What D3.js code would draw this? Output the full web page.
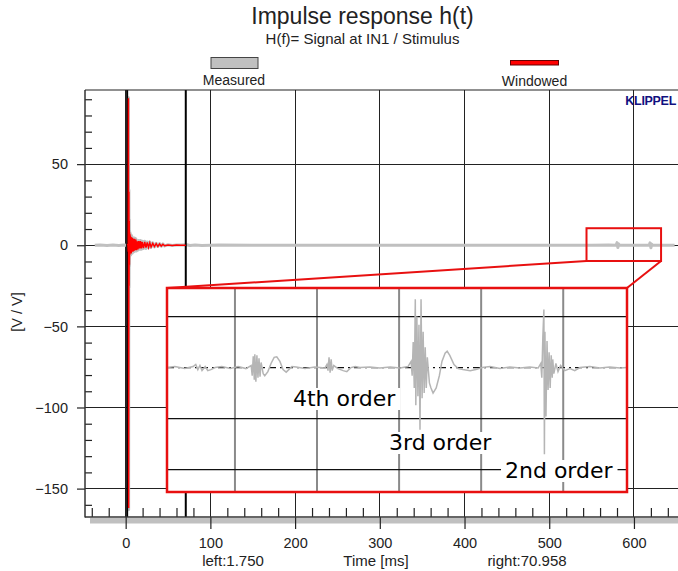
<!DOCTYPE html>
<html><head><meta charset="utf-8">
<script src="https://cdn.jsdelivr.net/npm/d3@7/dist/d3.min.js"></script>
<style>
html,body{margin:0;padding:0;background:#fff;}
svg{display:block;font-family:"Liberation Sans",Arial,sans-serif;}
</style></head><body>
<svg id="chart" width="678" height="571"></svg>
<script>
// ---------- data ----------
// Measured impulse response (time in ms, value in V/V)
const measuredTime = [-36.5,-30,-22,-15,-8,-2,1.0,2.0,2.6,3.0,
  3.25,3.5,3.8,4.0,4.2,4.4,4.6,4.8,5.0,5.3,
  5.6,5.9,6.2,6.6,7.0,7.5,8.0,8.6,9.2,9.8,
  10.5,11.2,12.0,12.8,13.6,14.5,15.5,16.5,17.5,18.5,
  19.5,21,22.5,24,25.5,27,28.5,30,32,34,
  36,38,40,42,44,46,50,55,60,65,
  72,76,82,90,110,150,200,260,320,380,
  440,500,550,570,579,580,581,582,583,600,
  618,619,620,621,622,635,648];
const measuredValue = [0,0.15,-0.1,0.1,-0.1,0.1,0,0.3,0.6,-4.5,
  91,-163,34,-26,16,-13,9,-7,8,-6,
  7,-6,6,-5,6,-5,5,-4.5,4.5,-4,
  4.5,-3.5,4,-3.5,3,-3,3,-2.5,3,-2.5,
  2.5,-2,2.5,-2,2,-1.5,2,-1.2,1.5,-1,
  1.2,-0.8,1,-0.6,0.8,-0.4,0.3,-0.2,0.2,0.1,
  0.3,-0.2,0.2,-0.1,0.1,0,0.05,-0.05,0.05,0,
  0.05,-0.05,0,0.1,0,1.6,-1.4,0.8,0,0.05,
  0,1.5,-1.6,0.6,0,0.05,0];

// Windowed impulse response (between the two cursors)
const windowedTime = [1.75,2.6,3.0,3.25,3.5,3.8,4.0,4.2,4.4,4.6,
  4.8,5.0,5.3,5.6,5.9,6.2,6.6,7.0,7.5,8.0,
  8.6,9.2,9.8,10.5,11.2,12.0,12.8,13.6,14.5,15.5,
  16.5,17.5,18.5,19.5,21,22.5,24,25.5,27,28.5,
  30,32,34,36,38,40,42,44,46,50,
  55,60,65,70.958];
const windowedValue = [0,0.5,-4,90.6,-162,33,-25,15,-12,8,
  -6,7,-5,6,-5,5,-5,5,-4,4.5,
  -4,4,-3.5,4,-3,3.5,-3,2.5,-2.5,2.5,
  -2,2.5,-2,2,-1.8,2,-1.5,1.8,-1.3,1.5,
  -1,1.2,-0.8,1,-0.7,0.8,-0.5,0.6,-0.3,0.2,
  -0.1,0.1,0,0];

const cursorLeft = 1.750;
const cursorRight = 70.958;

const xMajorTicks = [0,100,200,300,400,500,600];
const xMinorTicks = [-40,-20,20,40,60,80,120,140,160,180,220,240,260,280,
  320,340,360,380,420,440,460,480,520,540,560,580,620,640];
const yMajorTicks = [50,0,-50,-100,-150];
const yMinorTicks = [90,80,70,60,40,30,20,10,-10,-20,-30,-40,-60,-70,-80,-90,
  -110,-120,-130,-140,-160];

// Magnified window on the harmonic distortion impulses
const zoomTime = [544, 632];
const zoomValue = [10.5, -9.7];
const insetValueRange = [7.8, -12.2];
const insetGridTime = [557.0, 572.7, 588.4, 604.1, 619.8];
const insetGridValue = [5, -5, -10];
const insetTime = [544.0,545.5,547.4,549.0,549.5,549.9,550.3,550.7,551.3,551.8,
  552.4,553.2,554.5,556.1,557.6,559.1,560.1,560.3,560.5,560.7,
  560.8,561.0,561.2,561.4,561.6,561.8,562.0,562.4,562.7,563.3,
  563.9,564.5,565.0,565.6,566.2,566.8,567.3,567.9,568.7,570.4,
  572.3,574.2,574.6,574.8,575.0,575.2,575.4,575.6,575.9,576.7,
  577.7,578.4,579.2,580.0,580.9,582.8,584.7,586.7,588.6,590.1,
  590.7,590.9,591.1,591.3,591.5,591.6,591.8,592.0,592.2,592.4,
  592.6,592.8,593.0,593.2,593.4,593.6,593.8,594.2,594.5,594.9,
  595.5,596.1,596.6,597.2,597.6,598.1,598.9,599.7,600.6,602.0,
  603.1,604.3,605.8,607.7,609.6,611.5,613.4,615.0,615.5,615.7,
  615.9,616.1,616.2,616.3,616.5,616.7,616.9,617.1,617.3,617.5,
  617.7,617.8,618.0,618.4,618.8,619.3,620.1,621.1,622.0,623.0,
  624.9,626.8,628.7,630.7,632.0];
const insetValue = [0,0.1,-0.1,0.1,0.3,-0.2,0.2,-0.3,0.1,-0.3,
  -0.2,0,0.1,-0.1,0.1,-0.1,0.2,-0.8,1.1,-1.2,
  1.3,-1.4,1.2,-1.0,0.9,-0.9,0.5,-0.6,-0.8,-0.4,
  0.4,1.0,1.05,0.6,-0.2,-0.45,-0.2,0.1,0.05,-0.1,
  0.05,-0.05,0.3,-0.3,1.0,-0.5,0.8,-0.3,0.2,-0.1,
  -0.3,-0.4,0,0.1,0,0.05,-0.05,0.05,-0.05,0.1,
  0.6,-0.8,2.5,-2.0,6.7,-3.7,5.0,-2.8,4.2,-6.1,
  6.7,-3.0,3.5,-2.5,2.0,-2.0,1.0,-1.5,-2.0,-2.5,
  -2.0,-0.8,0.6,1.4,1.6,1.2,0.3,-0.1,-0.2,-0.3,
  -0.2,0,0.1,-0.1,0.05,-0.05,0.05,-0.05,0.4,-1.0,
  3.0,5.7,-8.5,3.5,-4.8,2.6,-2.2,1.5,-2.0,1.2,
  -1.0,0.8,-0.6,0.4,-0.4,0.2,-0.3,-0.1,-0.3,0,
  0.1,-0.05,0.05,-0.05,0];
const orderLabels = ["4th order", "3rd order", "2nd order"];

// ---------- layout ----------
const W = 678, H = 571;
const plot = {left: 85, top: 90, right: 678, bottom: 517};
const inset = {x: 167, y: 288, w: 460, h: 204};
const labelPos = [{x: 293, y: 406}, {x: 389, y: 450}, {x: 505, y: 478}];

const svg = d3.select("#chart");

const x = d3.scaleLinear().domain([-48, 652]).range([plot.left, plot.right]);
const y = d3.scaleLinear().domain([95.7, -167.5]).range([plot.top, plot.bottom]);

svg.append("defs").append("clipPath").attr("id", "plotClip")
  .append("rect").attr("x", plot.left).attr("y", plot.top)
  .attr("width", plot.right - plot.left).attr("height", plot.bottom - plot.top);

const body = svg.append("g").attr("clip-path", "url(#plotClip)");

// grid
body.selectAll(".vgrid").data(xMajorTicks).join("line")
  .attr("x1", d => x(d)).attr("x2", d => x(d))
  .attr("y1", plot.top).attr("y2", plot.bottom)
  .attr("stroke", "#222").attr("stroke-width", 1).attr("shape-rendering", "crispEdges");
body.selectAll(".hgrid").data(yMajorTicks).join("line")
  .attr("x1", plot.left).attr("x2", plot.right)
  .attr("y1", d => y(d)).attr("y2", d => y(d))
  .attr("stroke", "#222").attr("stroke-width", 1).attr("shape-rendering", "crispEdges");

// measured trace
const mainLine = d3.line().x(d => x(d[0])).y(d => y(d[1]));
body.append("path").datum(d3.zip(measuredTime, measuredValue))
  .attr("d", mainLine).attr("fill", "none")
  .attr("stroke", "#c0c0c0").attr("stroke-width", 3).attr("stroke-linejoin", "round");

// cursors
body.selectAll(".cursor").data([cursorLeft, cursorRight]).join("line")
  .attr("x1", d => x(d)).attr("x2", d => x(d))
  .attr("y1", plot.top).attr("y2", plot.bottom)
  .attr("stroke", "#000").attr("stroke-width", 2);

// windowed trace
body.append("path").datum(d3.zip(windowedTime, windowedValue))
  .attr("d", mainLine).attr("fill", "none")
  .attr("stroke", "#ff0000").attr("stroke-width", 1.5);

// zoom box and connectors
const zx0 = x(zoomTime[0]), zx1 = x(zoomTime[1]);
const zy0 = y(zoomValue[0]), zy1 = y(zoomValue[1]);
body.append("rect").attr("x", zx0).attr("y", zy0)
  .attr("width", zx1 - zx0).attr("height", zy1 - zy0)
  .attr("fill", "none").attr("stroke", "#e81010").attr("stroke-width", 2);
body.append("line").attr("x1", zx0).attr("y1", zy1).attr("x2", inset.x).attr("y2", inset.y)
  .attr("stroke", "#e81010").attr("stroke-width", 2);
body.append("line").attr("x1", zx1).attr("y1", zy1).attr("x2", inset.x + inset.w).attr("y2", inset.y)
  .attr("stroke", "#e81010").attr("stroke-width", 2);

// ---------- inset ----------
const ix = d3.scaleLinear().domain(zoomTime).range([inset.x, inset.x + inset.w]);
const iy = d3.scaleLinear().domain(insetValueRange).range([inset.y, inset.y + inset.h]);
const ig = svg.append("g");
ig.append("rect").attr("x", inset.x).attr("y", inset.y)
  .attr("width", inset.w).attr("height", inset.h).attr("fill", "#fff");
ig.selectAll(".ivgrid").data(insetGridTime).join("line")
  .attr("x1", d => ix(d)).attr("x2", d => ix(d))
  .attr("y1", inset.y).attr("y2", inset.y + inset.h)
  .attr("stroke", "#8a8a8a").attr("stroke-width", 2);
ig.selectAll(".ihgrid").data(insetGridValue).join("line")
  .attr("x1", inset.x).attr("x2", inset.x + inset.w)
  .attr("y1", d => iy(d)).attr("y2", d => iy(d))
  .attr("stroke", "#111").attr("stroke-width", 1.2);
ig.append("line")
  .attr("x1", inset.x).attr("x2", inset.x + inset.w)
  .attr("y1", iy(0)).attr("y2", iy(0))
  .attr("stroke", "#111").attr("stroke-width", 1.2).attr("stroke-dasharray", "7,4,2,4");
ig.append("path").datum(d3.zip(insetTime, insetValue))
  .attr("d", d3.line().x(d => ix(d[0])).y(d => iy(d[1])))
  .attr("fill", "none").attr("stroke", "#b5b5b5").attr("stroke-width", 1.5);

orderLabels.forEach((txt, i) => {
  const t = ig.append("text").attr("x", labelPos[i].x).attr("y", labelPos[i].y)
    .attr("font-family", "'DejaVu Sans', Verdana, sans-serif").attr("font-size", 22)
    .attr("fill", "#000").text(txt);
  const bb = t.node().getBBox();
  ig.insert("rect", () => t.node())
    .attr("x", bb.x - 4).attr("y", bb.y + 2)
    .attr("width", bb.width + 8).attr("height", bb.height - 3).attr("fill", "#fff");
});

ig.append("rect").attr("x", inset.x).attr("y", inset.y)
  .attr("width", inset.w).attr("height", inset.h)
  .attr("fill", "none").attr("stroke", "#e81010").attr("stroke-width", 2.5);

// ---------- axes ----------
svg.append("rect").attr("x", 90).attr("y", plot.bottom + 1)
  .attr("width", W - 90).attr("height", 5.5).attr("fill", "#c0c0c0");

const axisStyle = g => {
  g.select(".domain").remove();
  g.selectAll(".tick line").attr("stroke", "#222").attr("stroke-width", 1.2);
  g.selectAll(".tick text").attr("fill", "#222")
    .attr("font-family", "'Liberation Sans', Arial, sans-serif").attr("font-size", 14.5);
};

svg.append("g").attr("transform", `translate(0,${plot.bottom})`)
  .call(d3.axisBottom(x).tickValues(xMajorTicks).tickSize(12).tickPadding(9).tickFormat(d3.format("d")))
  .call(axisStyle);
svg.append("g").attr("transform", `translate(0,${plot.bottom})`)
  .call(d3.axisTop(x).tickValues(xMinorTicks).tickSize(9).tickFormat(""))
  .call(axisStyle);
svg.append("g").attr("transform", `translate(${plot.left},0)`)
  .call(d3.axisLeft(y).tickValues(yMajorTicks).tickSize(8).tickPadding(9).tickFormat(d3.format("d")))
  .call(axisStyle);
svg.append("g").attr("transform", `translate(${plot.left},0)`)
  .call(d3.axisRight(y).tickValues(yMinorTicks).tickSize(7).tickFormat(""))
  .call(axisStyle);

// frame lines
svg.append("line").attr("x1", plot.left).attr("x2", plot.left)
  .attr("y1", plot.top).attr("y2", plot.bottom + 0.5)
  .attr("stroke", "#333").attr("stroke-width", 1.5);
svg.append("line").attr("x1", plot.left).attr("x2", plot.right)
  .attr("y1", plot.top).attr("y2", plot.top)
  .attr("stroke", "#222").attr("stroke-width", 1.2);
svg.append("line").attr("x1", plot.left).attr("x2", plot.right)
  .attr("y1", plot.bottom).attr("y2", plot.bottom)
  .attr("stroke", "#333").attr("stroke-width", 1.5);

// ---------- texts ----------
const txt = (x0, y0, s, size, opts = {}) => svg.append("text")
  .attr("x", x0).attr("y", y0).attr("font-size", size)
  .attr("text-anchor", opts.anchor || "middle")
  .attr("font-weight", opts.weight || "normal")
  .attr("fill", opts.fill || "#222").text(s);

txt(362.5, 24, "Impulse response h(t)", 23);
txt(362.5, 43.5, "H(f)= Signal at IN1 / Stimulus", 15);

txt(233, 566, "left:" + cursorLeft.toFixed(3), 15);
txt(376, 566, "Time [ms]", 15);
txt(527, 566, "right:" + cursorRight.toFixed(3), 15);

svg.append("text").attr("transform", "translate(22,312) rotate(-90)")
  .attr("text-anchor", "middle").attr("font-size", 14.5).attr("fill", "#222").text("[V / V]");

// legend
svg.append("rect").attr("x", 211).attr("y", 57.5).attr("width", 47).attr("height", 11)
  .attr("fill", "#c0c0c0").attr("stroke", "#444").attr("stroke-width", 1);
txt(234, 85, "Measured", 14);
svg.append("rect").attr("x", 510.5).attr("y", 60.5).attr("width", 48).attr("height", 4.5)
  .attr("fill", "#ff0000").attr("stroke", "#600").attr("stroke-width", 1);
txt(534.5, 86, "Windowed", 14);

txt(676, 105, "KLIPPEL", 12.5, {anchor: "end", weight: "bold", fill: "#101080"})
  .attr("letter-spacing", -0.3);
</script>
</body></html>
